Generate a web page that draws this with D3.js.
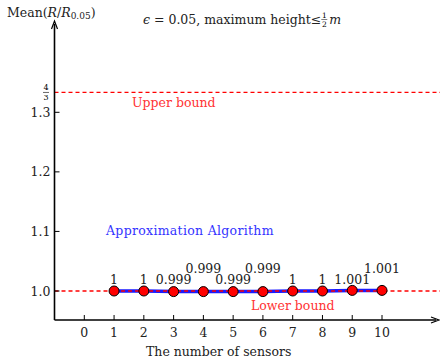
<!DOCTYPE html>
<html><head><meta charset="utf-8">
<script src="https://cdn.jsdelivr.net/npm/d3@7"></script>
<style>body{margin:0;background:#fff}svg{display:block}text{font-family:"DejaVu Serif",serif}</style>
</head><body><svg id="c" width="440" height="361"></svg>
<script>
const sensors = [1,2,3,4,5,6,7,8,9,10];
const meanRatio = [1,1,0.999,0.999,0.999,0.999,1,1,1.001,1.001];
const labelHigh = [false,false,false,true,false,true,false,false,false,true];
const xTicks = [0,1,2,3,4,5,6,7,8,9,10];
const yTicks = [1.0,1.1,1.2,1.3];
const upperBound = 4/3, lowerBound = 1.0;

const svg = d3.select("#c");
const x = d3.scaleLinear().domain([0,10]).range([84.3,382]);
const y = d3.scaleLinear().domain([1.0,1.3]).range([291,112.3]);
const axX = 54.5, axY = 320;

// bounds
[upperBound, lowerBound].forEach(v=>{
  svg.append("line").attr("x1",axX).attr("x2",440).attr("y1",y(v)).attr("y2",y(v))
    .attr("stroke","#f00").attr("stroke-width",1.3).attr("stroke-dasharray","4,3");
});

// axes
svg.append("line").attr("x1",axX).attr("x2",axX).attr("y1",axY).attr("y2",24).attr("stroke","#000").attr("stroke-width",1.6);
svg.append("path").attr("d",`M${axX-3},29 L${axX},21 L${axX+3},29`).attr("fill","none").attr("stroke","#000").attr("stroke-width",1.2);
svg.append("line").attr("x1",axX).attr("x2",436).attr("y1",axY).attr("y2",axY).attr("stroke","#000").attr("stroke-width",1.6);
svg.append("path").attr("d",`M431,${axY-3} L439,${axY} L431,${axY+3}`).attr("fill","none").attr("stroke","#000").attr("stroke-width",1.2);

xTicks.forEach(t=>{
  svg.append("line").attr("x1",x(t)).attr("x2",x(t)).attr("y1",axY).attr("y2",axY-5).attr("stroke","#000").attr("stroke-width",1);
  svg.append("text").attr("x",x(t)).attr("y",axY+17).attr("text-anchor","middle").attr("font-size",12.5).attr("fill","#222").text(t);
});
yTicks.forEach(t=>{
  svg.append("line").attr("x1",axX).attr("x2",axX+5).attr("y1",y(t)).attr("y2",y(t)).attr("stroke","#000").attr("stroke-width",1);
  svg.append("text").attr("x",axX-4).attr("y",y(t)+4.5).attr("text-anchor","end").attr("font-size",12.5).attr("fill","#222").text(t.toFixed(1));
});
// 4/3 fraction label
const fy = y(upperBound);
svg.append("text").attr("x",46).attr("y",fy-2).attr("text-anchor","middle").attr("font-size",8).text("4");
svg.append("line").attr("x1",43).attr("x2",49).attr("y1",fy).attr("y2",fy).attr("stroke","#000").attr("stroke-width",0.6);
svg.append("text").attr("x",46).attr("y",fy+8).attr("text-anchor","middle").attr("font-size",8).text("3");

// series line
const line = d3.line().x((d,i)=>x(sensors[i])).y(d=>y(d));
svg.append("path").datum(meanRatio).attr("d",line).attr("fill","none").attr("stroke","#1a1aff").attr("stroke-width",3.5);
svg.append("line").attr("x1",x(1)).attr("x2",x(10)).attr("y1",y(lowerBound)).attr("y2",y(lowerBound))
  .attr("stroke","#f00").attr("stroke-width",1.3).attr("stroke-dasharray","4,3");
svg.selectAll("circle.p").data(meanRatio).enter().append("circle")
  .attr("cx",(d,i)=>x(sensors[i])).attr("cy",d=>y(d)).attr("r",5)
  .attr("fill","#f00").attr("stroke","#000").attr("stroke-width",1);
svg.selectAll("text.v").data(meanRatio).enter().append("text")
  .attr("x",(d,i)=>x(sensors[i])).attr("y",(d,i)=>labelHigh[i]?273:284)
  .attr("text-anchor","middle").attr("font-size",12.5).attr("fill","#222")
  .text(d=>String(d));

// annotations
svg.append("text").attr("x",132).attr("y",107).attr("font-size",12.5).attr("fill","#f33").text("Upper bound");
svg.append("text").attr("x",251).attr("y",310).attr("font-size",12.5).attr("fill","#f33").text("Lower bound");
svg.append("text").attr("x",106).attr("y",235).attr("font-size",12.5).attr("letter-spacing",0.3).attr("fill","#33f").text("Approximation Algorithm");
svg.append("text").attr("x",146).attr("y",356).attr("font-size",12.5).attr("fill","#222").text("The number of sensors");

// y title
const yt = svg.append("text").attr("x",7).attr("y",17).attr("font-size",12.5).attr("fill","#222");
yt.append("tspan").text("Mean(");
yt.append("tspan").attr("font-style","italic").text("R");
yt.append("tspan").text("/");
yt.append("tspan").attr("font-style","italic").text("R");
yt.append("tspan").attr("font-size",9).attr("dy",2).text("0.05");
yt.append("tspan").attr("dy",-2).text(")");

// title
const tt = svg.append("text").attr("x",143).attr("y",24).attr("font-size",12.5).attr("fill","#222");
tt.append("tspan").attr("font-style","italic").text("ϵ");
tt.append("tspan").text(" = 0.05, maximum height≤ ");
const tb = tt.node().getBBox();
const fx = tb.x + tb.width + 3;
svg.append("text").attr("x",fx).attr("y",18).attr("text-anchor","middle").attr("font-size",7.5).text("1");
svg.append("line").attr("x1",fx-3).attr("x2",fx+3).attr("y1",19.5).attr("y2",19.5).attr("stroke","#000").attr("stroke-width",0.5);
svg.append("text").attr("x",fx).attr("y",26.5).attr("text-anchor","middle").attr("font-size",7.5).text("2");
svg.append("text").attr("x",fx+5).attr("y",24).attr("font-size",12.5).attr("font-style","italic").attr("fill","#222").text("m");
</script></body></html>
